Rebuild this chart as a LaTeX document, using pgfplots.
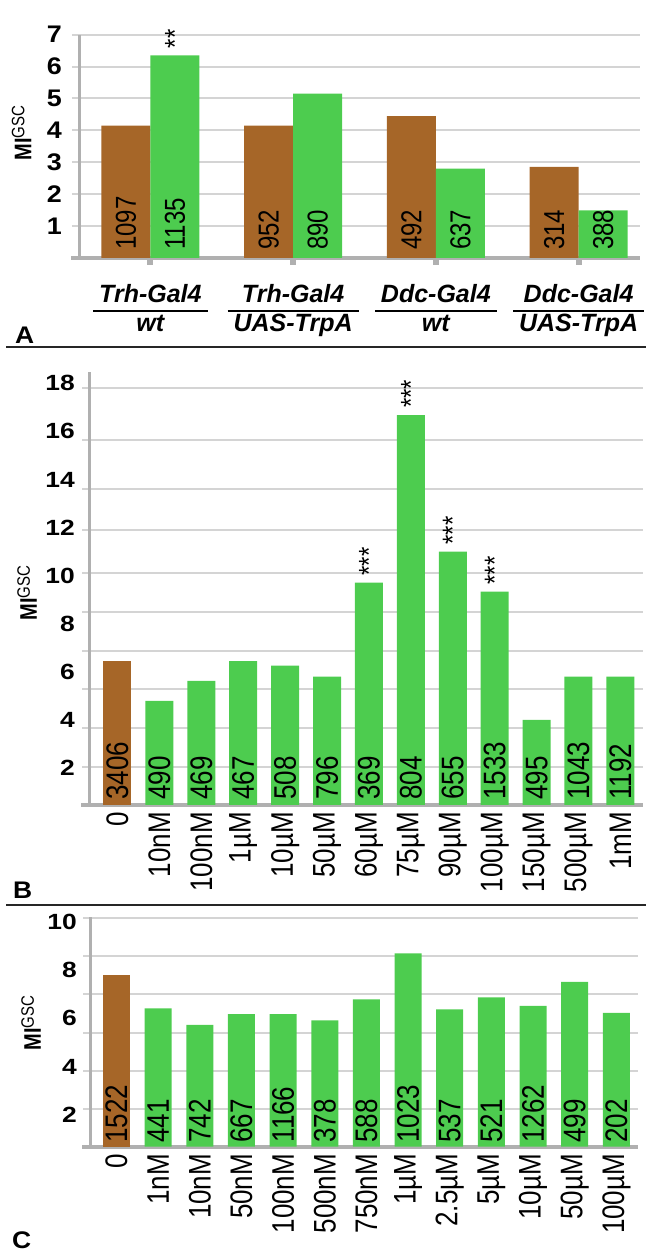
\documentclass[border=0pt]{standalone}
\usepackage{pgfplots}
\pgfplotsset{compat=1.18}
\usepackage{fontspec}
\setmainfont{Liberation Sans}
\newcommand{\fsz}[2]{\fontsize{#1bp}{#2bp}\selectfont}
\newcommand{\sy}[1]{\scalebox{1.2}[1]{#1}}
\newcommand{\sa}[1]{\scalebox{1.12}[1]{#1}}
\newcommand{\sx}[1]{\scalebox{1}[1.2]{#1}}
\setlength{\arrayrulewidth}{2bp}
\definecolor{brn}{RGB}{166,102,40}
\definecolor{grn}{RGB}{77,204,79}
\definecolor{gridc}{RGB}{212,212,212}
\definecolor{axc}{RGB}{176,176,176}
\newcommand{\cat}[2]{\begin{tabular}{c}#1\\\hline #2\end{tabular}}
\pgfplotsset{
  base/.style={
    scale only axis, anchor=south west,
    set layers,
    axis x line=bottom, axis y line=left,
    axis line style={-, draw=axc, line width=3bp, /pgfplots/on layer=axis foreground},
    x axis line style={line width=4bp, shorten <=-8bp},
    ybar,
    grid style={gridc, line width=2bp},
    y tick style={gridc, line width=2bp},
    tick align=outside,
    major tick length=7bp,
    /pgf/number format/assume math mode=true,
    yticklabel style={font=\fsz{22}{22}\bfseries, inner sep=0pt},
  },
  counts/.style n args={4}{
    nodes near coords={\sx{\pgfplotspointmeta}}, point meta=explicit symbolic,
    visualization depends on={y \as \rawy},
    every node near coord/.append style={
      yshift={-(\rawy-#1)*#2*1bp+#3*1bp}, rotate=90, anchor=west,
      inner sep=0pt, text=black, font=\fsz{#4}{#4}},
  },
  stars/.style={
    nodes near coords={\sx{\pgfplotspointmeta}}, point meta=explicit symbolic,
    every node near coord/.append style={
      yshift=7bp, rotate=90, anchor=west, inner sep=0pt, text=black,
      font=\fsz{24}{24}},
  },
}
\begin{document}
\begin{tikzpicture}

% ---------------- Panel A
\begin{axis}[base, at={(79bp,994bp)}, width=561bp, height=223.3bp,
  xmin=-0.5, xmax=3.43, ymin=0, ymax=7,
  ytick={1,...,7}, ymajorgrids, bar width=49bp,
  yticklabels={\sa{1},\sa{2},\sa{3},\sa{4},\sa{5},\sa{6},\sa{7}},
  xtick={0,1,2,3},
  xticklabels={\cat{Trh-Gal4}{wt}, \cat{Trh-Gal4}{UAS-TrpA}, \cat{Ddc-Gal4}{wt}, \cat{Ddc-Gal4}{UAS-TrpA}},
  x tick style={axc, line width=6bp},
  xticklabel style={font=\fsz{25}{27}\bfseries\itshape, anchor=north, inner sep=0pt, yshift=-18bp},
  yticklabel style={font=\fsz{24}{24}\bfseries, xshift=-10bp},
]
\addplot[fill=brn, draw=none, bar shift=-24.5bp, counts={0}{31.9}{8}{24}]
  coordinates {(0,4.15)[1097] (1,4.15)[952] (2,4.45)[492] (3,2.86)[314]};
\addplot[fill=grn, draw=none, bar shift=24.5bp, counts={0}{31.9}{8}{24}]
  coordinates {(0,6.35)[1135] (1,5.15)[890] (2,2.80)[637] (3,1.49)[388]};
\addplot[draw=none, fill=none, bar shift=24.5bp, stars]
  coordinates {(0,6.35)[**]};
\end{axis}

% ---------------- Panel B
\begin{axis}[base, at={(89bp,447bp)}, width=554bp, height=433bp,
  xmin=-0.68, xmax=12.54, ymin=0.47, ymax=18.47,
  ytick={2.04,3.66,5.28,6.88,8.48,10.10,11.90,13.60,15.65,17.79},
  yticklabels={}, ymajorgrids,
  extra y ticks={2,4,...,18},
  extra y tick labels={\sy{2},\sy{4},\sy{6},\sy{8},\sy{10},\sy{12},\sy{14},\sy{16},\sy{18}},
  extra y tick style={grid=none, major tick length=0pt},
  yticklabel style={xshift=-14bp},
  bar width=28bp,
  xtick={0,...,12},
  xticklabels={\sx{0},\sx{10nM},\sx{100nM},\sx{1µM},\sx{10µM},\sx{50µM},\sx{60µM},\sx{75µM},\sx{90µM},\sx{100µM},\sx{150µM},\sx{500µM},\sx{1mM}},
  x tick style={draw=none},
  xticklabel style={rotate=90, anchor=east, font=\fsz{26}{26}, inner sep=0pt},
]
\addplot[fill=brn, draw=none, bar shift=0pt, counts={0.47}{24.06}{5}{26}]
  coordinates {(0,6.47)[3406]};
\addplot[fill=grn, draw=none, bar shift=0pt, counts={0.47}{24.06}{5}{26}]
  coordinates {(1,4.80)[490] (2,5.63)[469] (3,6.45)[467] (4,6.26)[508] (5,5.81)[796]
   (6,9.71)[369] (7,16.68)[804] (8,11.00)[655] (9,9.34)[1533] (10,4.01)[495]
   (11,5.81)[1043] (12,5.81)[1192]};
\addplot[draw=none, fill=none, bar shift=0pt, stars]
  coordinates {(6,9.71)[***] (7,16.68)[***] (8,11.00)[***] (9,9.34)[***]};
\end{axis}

% ---------------- Panel C
\begin{axis}[base, at={(90bp,105.3bp)}, width=548bp, height=230bp,
  xmin=-0.636, xmax=12.52, ymin=0.69, ymax=10.21,
  ytick={2.25,3.82,5.41,7.0,8.59,10.14},
  yticklabels={}, ymajorgrids,
  extra y ticks={2,4,...,10},
  extra y tick labels={\sy{2},\sy{4},\sy{6},\sy{8},\sy{10}},
  extra y tick style={grid=none, major tick length=0pt},
  yticklabel style={xshift=-13bp},
  bar width=27bp,
  xtick={0,...,12},
  xticklabels={\sx{0},\sx{1nM},\sx{10nM},\sx{50nM},\sx{100nM},\sx{500nM},\sx{750nM},\sx{1µM},\sx{2.5µM},\sx{5µM},\sx{10µM},\sx{50µM},\sx{100µM}},
  x tick style={draw=none},
  xticklabel style={rotate=90, anchor=east, font=\fsz{26}{26}, inner sep=0pt},
]
\addplot[fill=brn, draw=none, bar shift=0pt, counts={0.69}{24.16}{4}{26}]
  coordinates {(0,7.79)[1522]};
\addplot[fill=grn, draw=none, bar shift=0pt, counts={0.69}{24.16}{4}{26}]
  coordinates {(1,6.42)[441] (2,5.73)[742] (3,6.18)[667] (4,6.18)[1166] (5,5.92)[378]
   (6,6.79)[588] (7,8.69)[1023] (8,6.37)[537] (9,6.87)[521] (10,6.52)[1262]
   (11,7.51)[499] (12,6.23)[202]};
\end{axis}

% ---------------- labels and separators
\draw[line width=2bp, black!85] (6bp,905bp) -- (646bp,905bp);
\draw[line width=2bp, black!85] (6bp,347bp) -- (646bp,347bp);
\node[anchor=base west, inner sep=0pt] at (15bp,908bp) {\fsz{24}{24}\bfseries\scalebox{1.1}[1]{A}};
\node[anchor=base west, inner sep=0pt] at (13bp,353bp) {\fsz{24}{24}\bfseries\scalebox{1.1}[1]{B}};
\node[anchor=base west, inner sep=0pt] at (12bp,4bp) {\fsz{24}{24}\bfseries\scalebox{1.1}[1]{C}};
\newcommand{\mig}{\sx{\fsz{20}{20}\bfseries MI\raisebox{5.8bp}{\fsz{15}{15}\mdseries GSC}}}
\node[rotate=90, inner sep=0pt] at (21.5bp,1119bp) {\mig};
\node[rotate=90, inner sep=0pt] at (27bp,659bp) {\mig};
\node[rotate=90, inner sep=0pt] at (31bp,229bp) {\mig};
\pgfresetboundingbox
\path (0bp,0bp) rectangle (646bp,1252bp);
\end{tikzpicture}
\end{document}
